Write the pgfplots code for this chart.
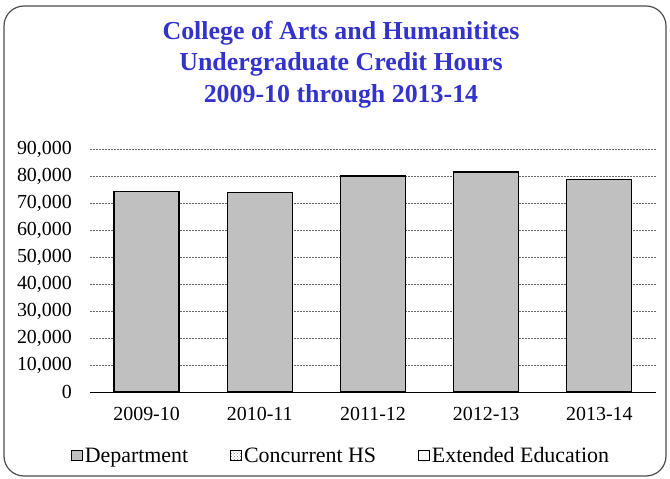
\documentclass[border=0pt]{standalone}
\usepackage{fontspec}
\setmainfont{Liberation Serif}
\usepackage{pgfplots}
\pgfplotsset{compat=1.18}
\usetikzlibrary{patterns}
\definecolor{titleblue}{RGB}{51,51,204}
\definecolor{barfill}{RGB}{192,192,192}

\begin{document}
\begin{tikzpicture}
\useasboundingbox (-90bp,-87bp) rectangle (580bp,392bp);
% outer chart frame
\draw[rounded corners=20bp, line width=1.2bp, black!70] (-86bp,-84bp) rectangle (576bp,386bp);
\begin{axis}[
    at={(0,0)}, anchor=south west,
    scale only axis, width=566bp, height=243bp,
    xmin=-0.5, xmax=4.5, ymin=0, ymax=90000,
    ybar, bar width=65bp,
    xtick={0,1,2,3,4},
    xticklabels={2009-10,2010-11,2011-12,2012-13,2013-14},
    ytick={0,10000,...,90000},
    scaled y ticks=false,
    axis x line=bottom, axis y line=left,
    axis line style={-},
    x axis line style={black, line width=1bp},
    y axis line style={draw=none},
    major tick length=0pt,
    ymajorgrids,
    major grid style={gray!80!black, dash pattern=on 2bp off 1bp, line width=0.9bp},
    /pgf/number format/assume math mode=true,
    tick label style={font=\fontsize{20}{24}\selectfont},
    yticklabel style={/pgf/number format/.cd, fixed, 1000 sep={,}, /tikz/.cd, inner sep=0pt, anchor=east, xshift=-18bp},
    xticklabel style={inner sep=0pt, anchor=north, yshift=-14.7bp},
    title={College of Arts and Humanitites\\Undergraduate Credit Hours\\2009-10 through 2013-14},
    title style={align=center, font=\fontsize{26}{31.5}\selectfont\bfseries, text=titleblue,
        inner sep=0pt, anchor=south, at={(0.5,1)}, yshift=35bp, xshift=-32bp},
    legend columns=-1,
    legend style={draw=none, fill=none, at={(0.5,0)}, anchor=center, xshift=-32bp, yshift=-64bp,
        font=\fontsize{22}{26}\selectfont,
        /tikz/every even column/.append style={column sep=40bp}},
    mylegend/.style={legend image code/.code={\draw[##1, draw=black, line width=0.8bp] (0bp,-4.5bp) rectangle (11bp,6bp);}},
]
\addplot[fill=barfill, draw=black, line width=1.2bp, mylegend]
    coordinates {(0,74200) (1,73850) (2,80000) (3,81500) (4,78800)};
\addlegendentry{Department}
\addlegendimage{pattern=crosshatch dots, pattern color=gray, mylegend}
\addlegendentry{Concurrent HS}
\addlegendimage{fill=white, mylegend}
\addlegendentry{Extended Education}
\end{axis}
\end{tikzpicture}
\end{document}
